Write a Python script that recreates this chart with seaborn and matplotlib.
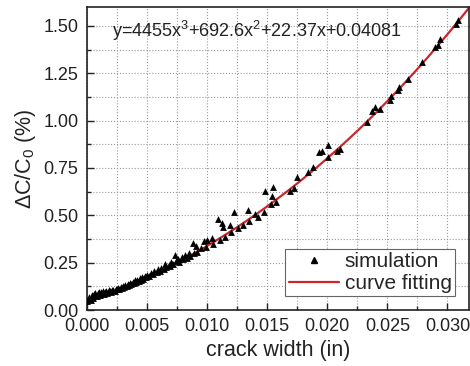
import numpy as np
import pandas as pd
import seaborn as sns
import matplotlib.pyplot as plt
from matplotlib.ticker import MultipleLocator, FormatStrFormatter
from matplotlib.lines import Line2D

# datos de simulacion (crack width en milesimas de pulgada, dC/C0 en %)
sim_x_mils = [
    0.0, 0.1, 0.2, 0.3, 0.4, 0.5, 0.6, 0.7, 0.8, 0.9,
    1.0, 1.1, 1.2, 1.3, 1.4, 1.5, 1.6, 1.7, 1.8, 1.9,
    2.0, 2.1, 2.2, 2.3, 2.4, 2.5, 2.6, 2.7, 2.8, 2.9,
    3.0, 3.1, 3.2, 3.3, 3.4, 3.5, 3.6, 3.7, 3.8, 3.9,
    4.0, 4.1, 4.2, 4.3, 4.4, 4.5, 4.6, 4.7, 4.8, 4.9,
    5.0, 5.2, 5.3, 5.5, 5.6, 5.8, 5.9, 6.1, 6.2, 6.4,
    6.5, 6.6, 6.8, 6.9, 7.0, 7.2, 7.3, 7.4, 7.6, 7.7,
    7.9, 8.0, 8.2, 8.3, 8.5, 8.6, 8.8, 8.9, 9.1, 9.2,
    9.5, 9.7, 9.9, 10.0, 10.4, 10.5, 10.9, 11.1, 11.2, 11.3,
    11.5, 11.9, 12.0, 12.2, 12.6, 13.0, 13.4, 13.5, 14.0, 14.2,
    14.7, 14.8, 15.3, 15.4, 15.5, 15.7, 16.9, 17.2, 17.5, 18.4,
    18.8, 19.3, 19.6, 20.1, 20.1, 20.8, 21.1, 23.3, 23.7, 24.0,
    24.4, 25.2, 25.3, 25.9, 26.0, 26.7, 27.9, 29.0, 29.2, 29.4,
    30.7, 30.9,
]
sim_y = [
    0.045, 0.060, 0.070, 0.052, 0.078, 0.065, 0.085, 0.092, 0.072, 0.088,
    0.095, 0.078, 0.093, 0.098, 0.085, 0.097, 0.100, 0.090, 0.104, 0.100,
    0.095, 0.108, 0.104, 0.100, 0.113, 0.110, 0.118, 0.112, 0.120, 0.117,
    0.125, 0.121, 0.130, 0.126, 0.135, 0.132, 0.142, 0.137, 0.148, 0.143,
    0.158, 0.149, 0.160, 0.155, 0.168, 0.161, 0.172, 0.166, 0.180, 0.172,
    0.186, 0.180, 0.195, 0.190, 0.205, 0.198, 0.214, 0.207, 0.222, 0.216,
    0.245, 0.226, 0.240, 0.232, 0.255, 0.245, 0.290, 0.258, 0.270, 0.256,
    0.280, 0.268, 0.288, 0.276, 0.300, 0.285, 0.355, 0.300, 0.340, 0.308,
    0.325, 0.365, 0.334, 0.370, 0.380, 0.350, 0.480, 0.368, 0.460, 0.440,
    0.385, 0.450, 0.410, 0.515, 0.432, 0.450, 0.530, 0.470, 0.505, 0.490,
    0.515, 0.630, 0.560, 0.600, 0.650, 0.570, 0.630, 0.645, 0.700, 0.730,
    0.755, 0.835, 0.840, 0.870, 0.810, 0.840, 0.850, 0.990, 1.050, 1.070,
    1.060, 1.110, 1.130, 1.160, 1.180, 1.220, 1.310, 1.390, 1.400, 1.430,
    1.510, 1.532,
]
sim_x = [v / 1000 for v in sim_x_mils]

# coeficientes del ajuste mostrado en la grafica
fit_coef = [4455, 692.6, 22.37, 0.04081]
fit_label = r"y=4455x$^3$+692.6x$^2$+22.37x+0.04081"

sim = pd.DataFrame({"x": sim_x, "y": sim_y})
xf = np.linspace(0, 0.0318, 300)
fit = pd.DataFrame({"x": xf, "y": np.polyval(fit_coef, xf)})

sns.set_style("ticks")
plt.rcParams["font.family"] = ["Liberation Sans", "DejaVu Sans"]
plt.rcParams["mathtext.fontset"] = "custom"
plt.rcParams["mathtext.rm"] = "Liberation Sans"

fig = plt.figure(figsize=(4.70, 3.66), dpi=100)
ax = fig.add_axes([0.185, 0.153, 0.813, 0.828])

sns.lineplot(data=fit, x="x", y="y", ax=ax, color="#c8282d", lw=1.6, zorder=2)
sns.scatterplot(data=sim, x="x", y="y", ax=ax, marker="^", s=24,
                color="black", linewidth=0, zorder=3)

ax.set_xlim(0, 0.0318)
ax.set_ylim(0, 1.6)
ax.xaxis.set_major_locator(MultipleLocator(0.005))
ax.xaxis.set_minor_locator(MultipleLocator(0.0025))
ax.yaxis.set_major_locator(MultipleLocator(0.25))
ax.yaxis.set_minor_locator(MultipleLocator(0.125))
ax.xaxis.set_major_formatter(FormatStrFormatter("%.3f"))
ax.yaxis.set_major_formatter(FormatStrFormatter("%.2f"))
ax.tick_params(which="major", direction="in", length=5, width=1, labelsize=13,
               colors="#222222", pad=6)
ax.tick_params(which="minor", direction="in", length=3, width=1)
ax.grid(which="both", color="#9a9a9a", ls=":", lw=0.8)
ax.set_axisbelow(True)
for s in ax.spines.values():
    s.set_linewidth(1.2)
    s.set_color("#222222")

ax.set_xlabel("crack width (in)", fontsize=15.5, color="#222222", labelpad=3)
ax.set_ylabel(r"$\Delta$C/C$_0$ (%)", fontsize=15.5, color="#222222", labelpad=4)
ax.text(0.065, 0.96, fit_label, transform=ax.transAxes, fontsize=13,
        va="top", ha="left", color="#222222")

handles = [
    Line2D([], [], marker="^", ls="none", color="black", markersize=5),
    Line2D([], [], color="#c8282d", lw=1.6),
]
leg = ax.legend(handles, ["simulation", "curve fitting"], loc="lower right",
                bbox_to_anchor=(0.963, 0.046), fontsize=15, fancybox=False,
                framealpha=1, edgecolor="#666666", handlelength=2.4,
                borderpad=0.15, labelspacing=0.15, handletextpad=0.3,
                borderaxespad=0)
leg.get_frame().set_linewidth(0.8)

fig.savefig("out.png", dpi=100)
